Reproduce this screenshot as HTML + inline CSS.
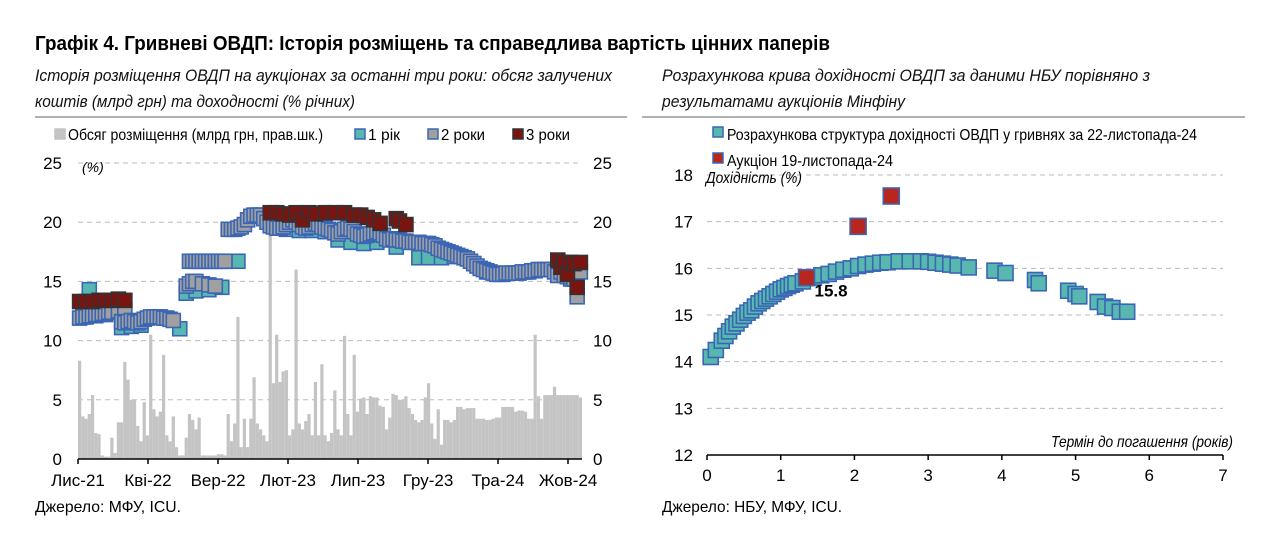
<!DOCTYPE html>
<html><head><meta charset="utf-8"><style>
html,body{margin:0;padding:0;background:#fff;}
svg{display:block;font-family:"Liberation Sans Narrow","Liberation Sans",sans-serif;}
</style></head><body>
<svg id="root" width="1280" height="554" viewBox="0 0 1280 554" xmlns="http://www.w3.org/2000/svg">
<text x="35" y="50" font-size="20" font-weight="bold" textLength="795" lengthAdjust="spacingAndGlyphs">Графік 4. Гривневі ОВДП: Історія розміщень та справедлива вартість цінних паперів</text>
<g font-style="italic" font-size="17" fill="#111">
<text x="35" y="81" textLength="577" lengthAdjust="spacingAndGlyphs">Історія розміщення ОВДП на аукціонах за останні три роки: обсяг залучених</text>
<text x="35" y="107" textLength="320" lengthAdjust="spacingAndGlyphs">коштів (млрд грн) та доходності (% річних)</text>
<text x="662" y="81" textLength="488" lengthAdjust="spacingAndGlyphs">Розрахункова крива дохідності ОВДП за даними НБУ порівняно з</text>
<text x="662" y="107" textLength="243" lengthAdjust="spacingAndGlyphs">результатами аукціонів Мінфіну</text>
</g>
<line x1="35" y1="117" x2="627" y2="117" stroke="#999" stroke-width="1.5"/>
<line x1="642" y1="117" x2="1245" y2="117" stroke="#999" stroke-width="1.5"/>
<g id="left"></g>
<g id="right"></g>
<text x="35" y="512" font-size="16" textLength="146" lengthAdjust="spacingAndGlyphs">Джерело: МФУ, ICU.</text>
<text x="662" y="512" font-size="16" textLength="180" lengthAdjust="spacingAndGlyphs">Джерело: НБУ, МФУ, ICU.</text>
</svg>
<script>
// ---------- LEFT CHART DATA ----------
const volumeWeekly = [8.3,3.6,3.4,3.8,5.4,2.2,2.1,0.3,0.2,0.2,1.8,0.5,3.1,3.1,8.2,6.7,5.0,5.0,2.8,1.5,4.8,2.0,10.5,4.2,3.6,4.0,8.8,2.0,1.5,3.6,1.0,0.3,0.3,1.8,3.8,3.3,2.5,3.5,0.3,0.3,0.3,0.3,0.3,0.4,0.4,0.3,3.8,1.5,3.0,12.0,1.0,3.4,1.0,3.4,6.9,3.0,2.5,2.0,1.5,20.0,6.4,10.5,6.5,7.4,7.5,2.0,2.5,16.0,3.0,2.5,3.2,3.8,2.0,6.5,2.0,8.0,2.0,1.5,2.2,5.8,2.5,2.0,10.4,3.8,2.0,8.8,4.0,5.1,5.2,3.8,5.3,5.2,5.2,4.5,4.4,2.5,3.5,5.5,5.4,5.0,5.0,5.3,4.3,3.8,3.3,3.1,3.3,5.2,6.4,3.0,1.7,4.2,1.2,3.3,3.3,3.1,3.3,4.4,4.4,4.2,4.3,4.3,4.3,3.4,3.4,3.4,3.3,3.3,3.4,3.5,3.5,4.4,4.4,4.4,4.4,4.0,4.1,4.1,4.0,3.4,3.4,10.5,5.3,3.4,5.4,5.4,5.4,6.1,5.4,5.4,5.4,5.4,5.4,5.4,5.4,5.2];
const y1Week = [1,3,5,8,13,16,19,31,33,36,40,44,49,64,68,72,76,80,84,88,92,98,105,108,112,116,122,126,130,152];
const y1Yield = [12.0,14.3,12.1,12.2,11.1,11.2,11.3,11.0,14.0,14.2,14.3,14.5,16.7,19.4,19.3,19.3,19.2,18.5,18.3,18.2,18.3,17.9,17.0,17.0,17.0,17.1,16.5,15.8,15.6,15.2];
const y2Week = [0,1,2,3,4,5,6,7,8,9,10,12,14,13,14,15,16,17,18,19,20,21,22,23,24,25,26,27,28,29,33,34,35,36,38,40,42,34,35,36,37,38,39,40,41,42,43,44,45,46,47,48,49,50,51,52,53,54,55,56,57,58,59,60,61,62,63,64,65,66,67,68,69,70,71,72,73,74,75,76,77,78,79,80,81,82,83,84,85,86,87,88,89,90,91,92,93,94,95,96,97,98,99,100,101,102,103,104,105,106,107,108,109,110,111,112,113,114,115,116,117,118,119,120,121,122,123,124,125,126,127,128,129,130,131,132,133,134,135,136,137,138,139,140,141,142,143,144,145,146,147,148,149,150,151,152,153,154,155];
const y2Yield = [11.9,12.0,12.0,12.1,12.1,12.2,12.2,12.3,12.3,12.4,12.4,12.5,12.6,11.6,11.5,11.6,11.7,11.6,11.5,11.6,11.8,11.9,12.0,12.0,12.0,12.0,11.9,11.9,11.8,11.7,14.6,14.8,15.0,15.0,14.8,14.7,14.6,16.7,16.7,16.7,16.7,16.7,16.7,16.7,16.7,16.7,16.7,16.7,16.7,19.4,19.4,19.4,19.5,19.6,19.8,20.2,20.5,20.6,20.6,20.6,20.3,20.0,19.7,19.6,19.5,19.5,19.6,19.8,20.0,20.2,20.0,19.8,19.6,19.5,19.6,19.8,19.9,19.8,19.6,19.5,19.4,19.3,19.1,19.0,19.2,19.4,19.5,19.4,19.2,19.0,18.9,18.8,18.9,19.0,19.1,19.2,19.1,18.9,18.6,18.5,18.6,18.5,18.5,18.4,18.4,18.3,18.3,18.3,18.3,18.2,18.2,18.2,18.1,18.0,17.8,17.7,17.6,17.5,17.4,17.3,17.2,17.1,17.0,16.9,16.7,16.5,16.3,16.1,16.0,15.9,15.8,15.7,15.6,15.6,15.6,15.7,15.7,15.7,15.7,15.7,15.8,15.8,15.8,15.9,15.9,16.0,16.0,16.0,16.0,16.0,15.8,15.5,15.8,15.5,15.4,15.4,15.2,13.7,15.8];
const y3Week = [0,2,4,6,8,10,12,14,59,61,63,65,67,69,71,73,76,79,82,85,87,89,91,93,98,99,101,148,149,150,151,152,153,154,155];
const y3Yield = [13.3,13.3,13.3,13.4,13.4,13.4,13.5,13.4,20.8,20.8,20.7,20.6,20.8,20.2,20.8,20.7,20.8,20.8,20.8,20.6,20.6,20.4,20.2,19.9,20.3,20.1,19.8,16.8,16.2,16.6,15.6,16.6,16.5,14.5,16.6];
const leftTicks = [0,5,10,15,20,25];
const leftMonthLabels = ["Лис-21","Кві-22","Вер-22","Лют-23","Лип-23","Гру-23","Тра-24","Жов-24"];
const leftMonthOffsets = [0,5,10,15,20,25,30,35];

// ---------- RIGHT CHART DATA ----------
const curveTerm = [0.05,0.12,0.2,0.25,0.3,0.35,0.4,0.45,0.5,0.55,0.6,0.65,0.7,0.75,0.8,0.85,0.9,0.95,1.0,1.05,1.1,1.15,1.2,1.3,1.45,1.55,1.65,1.75,1.85,1.95,2.05,2.15,2.25,2.35,2.45,2.6,2.75,2.9,3.0,3.1,3.2,3.3,3.4,3.55,3.9,4.05,4.45,4.5,4.9,5.0,5.05,5.3,5.4,5.5,5.6,5.7];
const curveYield = [14.1,14.25,14.45,14.55,14.65,14.75,14.82,14.9,14.98,15.05,15.1,15.18,15.25,15.3,15.35,15.4,15.45,15.5,15.55,15.58,15.62,15.65,15.68,15.72,15.8,15.85,15.88,15.93,15.97,16.0,16.05,16.08,16.1,16.12,16.13,16.15,16.15,16.15,16.14,16.12,16.1,16.08,16.06,16.02,15.95,15.9,15.75,15.68,15.52,15.45,15.4,15.28,15.18,15.15,15.07,15.07];
const auctionTerm = [1.35,2.05,2.5];
const auctionYield = [15.8,16.9,17.55];
const rightYTicks = [12,13,14,15,16,17,18];
const rightXTicks = [0,1,2,3,4,5,6,7];

const NS = "http://www.w3.org/2000/svg";
function mk(parent, tag, attrs, text){
  const el = document.createElementNS(NS, tag);
  for (const k in attrs) el.setAttribute(k, attrs[k]);
  if (text !== undefined) el.textContent = text;
  parent.appendChild(el);
  return el;
}

// ===== LEFT =====
const L = document.getElementById('left');
const lx0 = 78, lx1 = 582, ly0 = 459, ly1 = 163;
const weekW = (lx1 - lx0) / volumeWeekly.length;
const monthW = 14;
function lxW(w){ return lx0 + (w + 0.5) * weekW; }
function lxM(m){ return lx0 + m * monthW; }
function lyV(v){ return ly0 - (v / 25) * (ly0 - ly1); }

leftTicks.forEach(t => {
  if (t > 0) {
    const g = mk(L, 'line', {x1: lx0, x2: lx1, y1: lyV(t), y2: lyV(t), stroke: '#bbb', 'stroke-dasharray': '5,4'});
    
    
  }
  const a = mk(L, 'text', {x: 62, y: lyV(t) + 6, 'text-anchor': 'end', 'font-size': 17}, String(t));
  
  
  const b = mk(L, 'text', {x: 593, y: lyV(t) + 6, 'font-size': 17}, String(t));
  
  
});
const pct = mk(L, 'text', {x: 82, y: 172, 'font-size': 14, 'font-style': 'italic'}, '(%)');



volumeWeekly.forEach((v, i) => {
  const r = mk(L, 'rect', {x: lx0 + i * weekW, y: lyV(v), width: weekW, height: ly0 - lyV(v), fill: '#c4c4c4'});
  
  
});

const ax = mk(L, 'line', {x1: lx0, x2: lx1, y1: ly0, y2: ly0, stroke: '#000', 'stroke-width': 1.5});


leftMonthOffsets.forEach((m, i) => {
  const t = mk(L, 'line', {x1: lxM(m), x2: lxM(m), y1: ly0, y2: ly0 + 5, stroke: '#000', 'stroke-width': 1.5});
  
  
  const lab = mk(L, 'text', {x: lxM(m), y: 486, 'text-anchor': 'middle', 'font-size': 17}, leftMonthLabels[i]);
  
  
});

const S = 14;
function marker(parent, cx, cy, fill, stroke, name, size){
  const s = size || S;
  const r = mk(parent, 'rect', {x: cx - s/2, y: cy - s/2, width: s, height: s, fill: fill, stroke: stroke, 'stroke-width': 1.6});
  
  
  return r;
}
y1Week.forEach((w, i) => marker(L, lxW(w), lyV(y1Yield[i]), '#58b8b0', '#3a66b5', 'marker-1y'));
y2Week.forEach((w, i) => marker(L, lxW(w), lyV(y2Yield[i]), '#a0a0a0', '#3a66b5', 'marker-2y'));
y3Week.forEach((w, i) => marker(L, lxW(w), lyV(y3Yield[i]), '#7a1410', '#333', 'marker-3y'));

// left legend
const lg = mk(L, 'g', {'font-size': 16});


const legItems = [
  [55, '#c4c4c4', '#c4c4c4', 'Обсяг розміщення (млрд грн, прав.шк.)', 255],
  [355, '#58b8b0', '#3a66b5', '1 рік', 32],
  [428, '#a0a0a0', '#3a66b5', '2 роки', 44],
  [513, '#7a1410', '#333', '3 роки', 44]
];
legItems.forEach(it => {
  const sq = mk(lg, 'rect', {x: it[0], y: 129, width: 10, height: 10, fill: it[1], stroke: it[2], 'stroke-width': 1.5});
  
  
  const tx = mk(lg, 'text', {x: it[0] + 13, y: 140, textLength: it[4], lengthAdjust: 'spacingAndGlyphs'}, it[3]);
  
  
});

// ===== RIGHT =====
const R = document.getElementById('right');
const rx0 = 707, rx1 = 1223, ry0 = 455, ry1 = 175;
function rx(t){ return rx0 + (t / 7) * (rx1 - rx0); }
function ry(v){ return ry0 - ((v - 12) / 6) * (ry0 - ry1); }

rightYTicks.forEach(t => {
  if (t > 12) {
    const g = mk(R, 'line', {x1: rx0, x2: rx1, y1: ry(t), y2: ry(t), stroke: '#bbb', 'stroke-dasharray': '5,4'});
    
    
  }
  const a = mk(R, 'text', {x: 693, y: ry(t) + 6, 'text-anchor': 'end', 'font-size': 17}, String(t));
  
  
});
const rax = mk(R, 'line', {x1: rx0, x2: rx1, y1: ry0, y2: ry0, stroke: '#000', 'stroke-width': 1.5});


rightXTicks.forEach(t => {
  const k = mk(R, 'line', {x1: rx(t), x2: rx(t), y1: ry0, y2: ry0 + 5, stroke: '#000', 'stroke-width': 1.5});
  
  
  const l = mk(R, 'text', {x: rx(t), y: 481, 'text-anchor': 'middle', 'font-size': 17}, String(t));
  
  
});
const yt = mk(R, 'text', {x: 706, y: 183, 'font-size': 16, 'font-style': 'italic', textLength: 96, lengthAdjust: 'spacingAndGlyphs'}, 'Дохідність (%)');


const xt = mk(R, 'text', {x: 1233, y: 447, 'font-size': 16, 'font-style': 'italic', 'text-anchor': 'end', textLength: 182, lengthAdjust: 'spacingAndGlyphs'}, 'Термін до погашення (років)');



curveTerm.forEach((t, i) => marker(R, rx(t), ry(curveYield[i]), '#58b8b0', '#3a66b5', 'curve-point', 15));
auctionTerm.forEach((t, i) => marker(R, rx(t), ry(auctionYield[i]), '#b8261e', '#3a66b5', 'auction-point', 16));
const al = mk(R, 'text', {x: rx(auctionTerm[0]) + 8, y: ry(auctionYield[0]) + 19, 'font-size': 17, 'font-weight': 'bold'}, auctionYield[0].toFixed(1));



const rl = [
  [127, '#58b8b0', 'Розрахункова структура дохідності ОВДП у гривнях за 22-листопада-24', 470, 140],
  [153, '#b8261e', 'Аукціон 19-листопада-24', 166, 166]
];
rl.forEach(it => {
  const sq = mk(R, 'rect', {x: 713, y: it[0], width: 10, height: 10, fill: it[1], stroke: '#3a66b5', 'stroke-width': 1.5});
  
  
  const tx = mk(R, 'text', {x: 727, y: it[4], 'font-size': 16, textLength: it[3], lengthAdjust: 'spacingAndGlyphs'}, it[2]);
  
  
});
</script>
</body></html>
